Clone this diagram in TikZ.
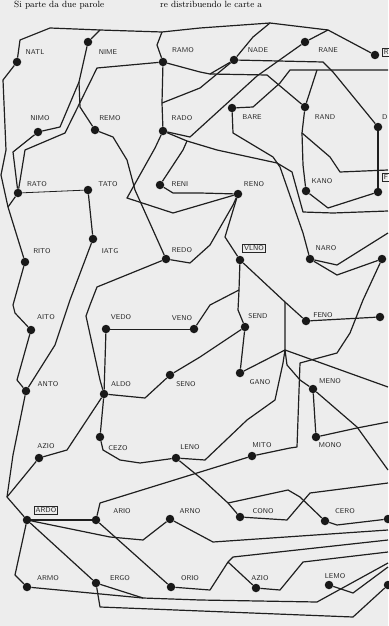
\documentclass[tikz,border=0pt]{standalone}
\usepackage{tikz}
\usetikzlibrary{positioning}
\definecolor{paper}{gray}{0.93}
\tikzset{
  word/.style={circle,fill=black!90,inner sep=0pt,minimum size=8.5pt},
  lbl/.style={font=\sffamily\fontsize{7}{7}\selectfont,inner sep=1pt,text=black!85},
  startbox/.style={lbl,draw=black!85,line width=0.7pt,inner sep=1.5pt},
  wire/.style={line width=1.2pt,draw=black!88,line join=round},
}

\begin{document}
\begin{tikzpicture}[x=1pt,y=-1pt]
    \fill[paper] (0,0) rectangle (388,626);
    \useasboundingbox (0,0) rectangle (388,626);

    % page text at the top
    \node[anchor=base west,font=\fontsize{9}{10}\selectfont,inner sep=0pt] (txtl) at (14,8) {Si parte da due parole};
    \node[anchor=base west,font=\fontsize{9}{10}\selectfont,inner sep=0pt] (txtr) at (160,8) {re distribuendo le carte a};

    % row 1
    \node[word] (natl) at (17,62) {};   \node[lbl] (natl-l) at (35,52) {NATL};
    \node[word] (nime) at (88,42) {};   \node[lbl] (nime-l) at (108,52) {NIME};
    \node[word] (ramo) at (163,62) {};  \node[lbl] (ramo-l) at (183,50) {RAMO};
    \node[word] (nade) at (234,60) {};  \node[lbl] (nade-l) at (258,50) {NADE};
    \node[word] (rane) at (305,42) {};  \node[lbl] (rane-l) at (328,50) {RANE};
    \node[word] (rb1) at (375,55) {};   \node[startbox,anchor=west] (rb1-l) at (382,52) {R};

    % row 2
    \node[word] (nimo) at (38,132) {};  \node[lbl] (nimo-l) at (40,118) {NIMO};
    \node[word] (remo) at (95,130) {};  \node[lbl] (remo-l) at (110,118) {REMO};
    \node[word] (rado) at (163,131) {}; \node[lbl] (rado-l) at (182,118) {RADO};
    \node[word] (bare) at (232,108) {}; \node[lbl] (bare-l) at (252,117) {BARE};
    \node[word] (rand) at (305,107) {}; \node[lbl] (rand-l) at (325,117) {RAND};
    \node[word] (rd2) at (378,127) {};  \node[lbl,anchor=west] (rd2-l) at (381,117) {D};

    % row 3
    \node[word] (rato) at (18,193) {};  \node[lbl] (rato-l) at (37,184) {RATO};
    \node[word] (tato) at (88,190) {};  \node[lbl] (tato-l) at (108,184) {TATO};
    \node[word] (reni) at (160,185) {}; \node[lbl] (reni-l) at (180,184) {RENI};
    \node[word] (reno) at (238,194) {}; \node[lbl] (reno-l) at (254,184) {RENO};
    \node[word] (kano) at (306,191) {}; \node[lbl] (kano-l) at (322,181) {KANO};
    \node[word] (rb3) at (378,192) {};  \node[startbox,anchor=west] (rb3-l) at (382,177) {F};

    % row 4
    \node[word] (rito) at (25,262) {};  \node[lbl] (rito-l) at (42,251) {RITO};
    \node[word] (iatg) at (93,239) {};  \node[lbl] (iatg-l) at (110,251) {IATG};
    \node[word] (redo) at (166,259) {}; \node[lbl] (redo-l) at (182,250) {REDO};
    \node[word] (vlno) at (240,260) {}; \node[startbox] (vlno-l) at (254,248) {VLNO};
    \node[word] (naro) at (310,259) {}; \node[lbl] (naro-l) at (326,248) {NARO};
    \node[word] (rd4) at (382,259) {};

    % row 5
    \node[word] (aito) at (31,330) {};  \node[lbl] (aito-l) at (46,317) {AITO};
    \node[word] (vedo) at (106,329) {}; \node[lbl] (vedo-l) at (121,317) {VEDO};
    \node[word] (veno) at (194,329) {}; \node[lbl] (veno-l) at (182,318) {VENO};
    \node[word] (send) at (245,327) {}; \node[lbl] (send-l) at (258,316) {SEND};
    \node[word] (feno) at (306,321) {}; \node[lbl] (feno-l) at (323,315) {FENO};
    \node[word] (rd5) at (380,317) {};

    % row 6
    \node[word] (anto) at (26,391) {};  \node[lbl] (anto-l) at (48,384) {ANTO};
    \node[word] (aldo) at (104,394) {}; \node[lbl] (aldo-l) at (121,384) {ALDO};
    \node[word] (seno) at (170,375) {}; \node[lbl] (seno-l) at (186,384) {SENO};
    \node[word] (gano) at (240,373) {}; \node[lbl] (gano-l) at (260,382) {GANO};
    \node[word] (meno) at (313,389) {}; \node[lbl] (meno-l) at (330,381) {MENO};

    % row 7
    \node[word] (azio) at (39,458) {};  \node[lbl] (azio-l) at (46,446) {AZIO};
    \node[word] (cezo) at (100,437) {}; \node[lbl] (cezo-l) at (118,448) {CEZO};
    \node[word] (leno) at (176,458) {}; \node[lbl] (leno-l) at (190,447) {LENO};
    \node[word] (mito) at (252,456) {}; \node[lbl] (mito-l) at (262,445) {MITO};
    \node[word] (mono) at (316,437) {}; \node[lbl] (mono-l) at (330,445) {MONO};

    % row 8
    \node[word] (ardo) at (27,520) {};  \node[startbox] (ardo-l) at (46,510) {ARDO};
    \node[word] (ario) at (96,520) {};  \node[lbl] (ario-l) at (122,511) {ARIO};
    \node[word] (arno) at (170,519) {}; \node[lbl] (arno-l) at (190,511) {ARNO};
    \node[word] (cono) at (240,517) {}; \node[lbl] (cono-l) at (263,511) {CONO};
    \node[word] (cero) at (325,521) {}; \node[lbl] (cero-l) at (345,511) {CERO};
    \node[word] (rd8) at (388,519) {};

    % row 9
    \node[word] (armo) at (27,587) {};  \node[lbl] (armo-l) at (48,578) {ARMO};
    \node[word] (ergo) at (96,583) {};  \node[lbl] (ergo-l) at (120,578) {ERGO};
    \node[word] (orio) at (171,587) {}; \node[lbl] (orio-l) at (190,578) {ORIO};
    \node[word] (azioB) at (256,588) {};\node[lbl] (azioB-l) at (260,578) {AZIO};
    \node[word] (lemo) at (329,585) {}; \node[lbl] (lemo-l) at (335,576) {LEMO};
    \node[word] (rd9) at (388,585) {};

    % junctions and loose ends
    \coordinate (tA) at (100,30);
    \coordinate (tB) at (162,32);
    \coordinate (tC) at (270,23);
    \coordinate (tD) at (328,30);
    \coordinate (jnime) at (79,82);
    \coordinate (jrr) at (162,103);
    \coordinate (jrn) at (210,74);
    \coordinate (jra) at (317,70);
    \coordinate (jrd) at (302,133);
    \coordinate (jrad) at (187,141);
    \coordinate (jlft) at (8,207);
    \coordinate (jvs) at (239,290);
    \coordinate (jvf) at (285,302);
    \coordinate (jg) at (285,350);
    \coordinate (jaz) at (7,497);
    \coordinate (jlc) at (228,503);
    \coordinate (jbot) at (143,598);
    \coordinate (jor) at (228,562);
    \coordinate (e1) at (388,70);
    \coordinate (e2) at (388,170);
    \coordinate (e3) at (388,211);
    \coordinate (e4) at (388,387);
    \coordinate (e5) at (388,470);
    \coordinate (e6) at (388,422);
    \coordinate (e7) at (388,233);
    \coordinate (e8) at (388,483);
    \coordinate (e9) at (388,530);
    \coordinate (e10) at (388,563);
    \coordinate (e11) at (388,540);
    \coordinate (e12) at (388,552);
    \coordinate (e13) at (388,567);

    % upper links
    \draw[wire] (natl) -- (20,40) -- (50,28) -- (tA) -- (tB) -- (200,28) -- (tC) -- (tD) -- (rb1);
    \draw[wire] (nime) -- (tA);
    \draw[wire] (ramo) -- (157,45) -- (tB);
    \draw[wire] (nade) -- (253,37) -- (tC);
    \draw[wire] (rane) -- (tD);
    \draw[wire] (rane) -- (257,76) -- (190,137) -- (rado);
    \draw[wire] (ramo) -- (jrr) -- (rado);
    \draw[wire] (ramo) -- (200,72) -- (jrn) -- (nade);
    \draw[wire] (nade) -- (200,88) -- (jrr);
    \draw[wire] (nade) -- (323,62) -- (333,72) -- (rd2);
    \draw[wire] (bare) -- (253,107) -- (280,83) -- (290,70) -- (jra) -- (e1);
    \draw[wire] (rand) -- (jra);
    \draw[wire] (jrn) -- (267,75) -- (rand);
    \draw[wire] (rand) -- (jrd) -- (330,157) -- (340,172) -- (e2);
    \draw[wire] (kano) -- (303,165) -- (jrd);
    \draw[wire] (kano) -- (328,208) -- (rb3);
    \draw[wire] (rd2) -- (rb3);
    \draw[wire] (bare) -- (233,133) -- (273,157) -- (280,167) -- (303,233) -- (naro);
    \draw[wire] (rado) -- (jrad) -- (217,150) -- (277,163) -- (292,172) -- (303,212) -- (333,213) -- (e3);
    \draw[wire] (reni) -- (183,150) -- (jrad);
    \draw[wire] (reni) -- (173,193) -- (200,193) -- (reno);
    \draw[wire] (rado) -- (155,148) -- (127,198) -- (173,213) -- (reno);
    \draw[wire] (remo) -- (113,137) -- (127,160) -- (135,190) -- (153,230) -- (redo);
    \draw[wire] (nime) -- (jnime) -- (80,107) -- (remo);
    \draw[wire] (jnime) -- (60,127) -- (nimo);
    \draw[wire] (ramo) -- (97,68) -- (65,133) -- (25,150) -- (rato);
    \draw[wire] (nimo) -- (13,152) -- (rato);
    \draw[wire] (natl) -- (3,80) -- (6,150) -- (1,175) -- (jlft) -- (rito);
    \draw[wire] (rato) -- (jlft);

    % middle links
    \draw[wire,line width=0.8pt] (rato) -- (tato);
    \draw[wire] (tato) -- (iatg);
    \draw[wire] (iatg) -- (70,300) -- (55,345) -- (anto);
    \draw[wire] (rito) -- (13,305) -- (15,313) -- (aito);
    \draw[wire] (redo) -- (97,287) -- (90,305) -- (86,316) -- (100,380) -- (aldo);
    \draw[wire] (redo) -- (190,263) -- (210,245) -- (233,205) -- (reno);
    \draw[wire] (reno) -- (225,237) -- (vlno);
    \draw[wire] (vlno) -- (jvs) -- (238,310) -- (send);
    \draw[wire] (vlno) -- (jvf) -- (feno);
    \draw[wire] (veno) -- (210,305) -- (jvs);
    \draw[wire,line width=0.8pt] (vedo) -- (veno);
    \draw[wire] (send) -- (200,357) -- (seno);
    \draw[wire] (send) -- (gano);
    \draw[wire] (gano) -- (jg) -- (jvf);
    \draw[wire] (jg) -- (e4);
    \draw[wire] (leno) -- (205,460) -- (247,420) -- (275,400) -- (283,363) -- (jg);
    \draw[wire] (meno) -- (300,380) -- (287,365) -- (jg);
    \draw[wire] (meno) -- (mono);
    \draw[wire] (meno) -- (357,427) -- (e5);
    \draw[wire] (mono) -- (357,428) -- (e6);
    \draw[wire] (feno) -- (rd5);
    \draw[wire] (naro) -- (337,265) -- (e7);
    \draw[wire] (naro) -- (337,275) -- (rd4);
    \draw[wire] (rd4) -- (363,300) -- (350,333) -- (337,353) -- (300,363) -- (297,447) -- (290,448) -- (mito);

    % lower links
    \draw[wire] (aito) -- (17,380) -- (anto);
    \draw[wire] (anto) -- (13,455) -- (jaz) -- (ardo);
    \draw[wire] (aldo) -- (vedo);
    \draw[wire] (aldo) -- (145,398) -- (seno);
    \draw[wire] (aldo) -- (cezo);
    \draw[wire] (aldo) -- (67,450) -- (azio);
    \draw[wire] (azio) -- (jaz);
    \draw[wire] (cezo) -- (103,450) -- (120,460) -- (140,463) -- (leno);
    \draw[wire] (ario) -- (100,503) -- (mito);
    \draw[wire] (leno) -- (203,480) -- (jlc) -- (cono);
    \draw[wire] (jlc) -- (288,490) -- (300,497) -- (cero);
    \draw[wire] (cono) -- (287,520) -- (310,493) -- (e8);
    \draw[wire] (cero) -- (337,525) -- (rd8);
    \draw[wire] (ardo) -- (ario);
    \draw[wire] (ardo) -- (110,537) -- (143,540) -- (arno);
    \draw[wire] (ardo) -- (ergo);
    \draw[wire] (ardo) -- (15,575) -- (armo);
    \draw[wire] (ario) -- (orio);
    \draw[wire] (arno) -- (213,542) -- (e9);
    \draw[wire] (armo) -- (jbot);
    \draw[wire] (ergo) -- (jbot) -- (200,600) -- (317,602) -- (e10);
    \draw[wire] (ergo) -- (100,607) -- (353,617) -- (rd9);
    \draw[wire] (orio) -- (210,590) -- (jor) -- (233,557) -- (e11);
    \draw[wire] (azioB) -- (jor);
    \draw[wire] (azioB) -- (280,590) -- (303,562) -- (e12);
    \draw[wire] (lemo) -- (353,593) -- (e13);
\end{tikzpicture}
\end{document}
